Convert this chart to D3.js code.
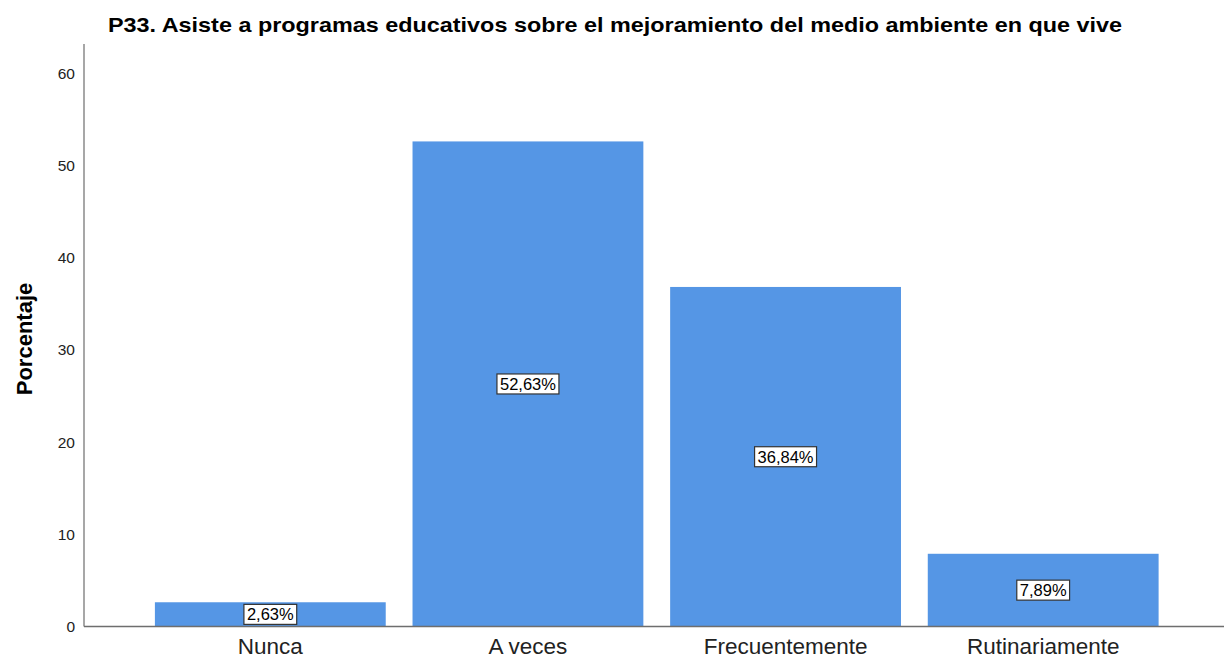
<!DOCTYPE html>
<html>
<head>
<meta charset="utf-8">
<script src="https://cdn.jsdelivr.net/npm/d3@7"></script>
<style>
  html, body { margin: 0; padding: 0; background: #fff; }
  svg { display: block; font-family: Arial, "Liberation Sans", sans-serif; }
</style>
</head>
<body>
<svg id="chart" width="1224" height="662"></svg>
<script>
// Response categories and their percentages
const categories = ["Nunca", "A veces", "Frecuentemente", "Rutinariamente"];
const percentages = [2.63, 52.63, 36.84, 7.89];
const yTicks = [0, 10, 20, 30, 40, 50, 60];
const title = "P33. Asiste a programas educativos sobre el mejoramiento del medio ambiente en que vive";
const yTitle = "Porcentaje";

const svg = d3.select("#chart");
const W = 1224;

const x = d3.scaleBand()
  .domain(categories)
  .range([141.5, 1172])
  .paddingInner(0.104)
  .paddingOuter(0.052);

const y = d3.scaleLinear()
  .domain([0, 60])
  .range([626.5, 73.5]);

const fmt = v => v.toFixed(2).replace(".", ",") + "%";

// Title
svg.append("text")
  .attr("x", 615).attr("y", 32)
  .attr("text-anchor", "middle")
  .attr("font-weight", "bold")
  .attr("font-size", 21)
  .attr("textLength", 1014)
  .attr("lengthAdjust", "spacingAndGlyphs")
  .attr("fill", "#000")
  .text(title);

// Y axis title
svg.append("text")
  .attr("transform", "translate(32,339) rotate(-90)")
  .attr("text-anchor", "middle")
  .attr("font-weight", "bold")
  .attr("font-size", 22)
  .attr("fill", "#000")
  .text(yTitle);

// Bars
svg.append("g").selectAll("rect")
  .data(percentages)
  .join("rect")
  .attr("x", (d, i) => x(categories[i]))
  .attr("width", x.bandwidth())
  .attr("y", d => y(d))
  .attr("height", d => y(0) - y(d))
  .attr("fill", "#5596e5");

// Y axis
const yAxis = d3.axisLeft(y).tickValues(yTicks).tickSize(0).tickPadding(9);
const gy = svg.append("g").attr("transform", "translate(84,0)").call(yAxis);
gy.select(".domain").remove();
gy.selectAll("text").attr("font-size", 15.5).attr("fill", "#222")
  .attr("font-family", "Arial, 'Liberation Sans', sans-serif");
svg.append("line")
  .attr("x1", 84).attr("x2", 84)
  .attr("y1", 44).attr("y2", y(0))
  .attr("stroke", "#8a8a8a").attr("stroke-width", 1.5);

// X axis
const xAxis = d3.axisBottom(x).tickSize(0).tickPadding(12);
const gx = svg.append("g").attr("transform", `translate(0,${y(0)})`).call(xAxis);
gx.select(".domain").remove();
gx.selectAll("text").attr("font-size", 22.5).attr("fill", "#222")
  .attr("font-family", "Arial, 'Liberation Sans', sans-serif");
svg.append("line")
  .attr("x1", 84).attr("x2", W)
  .attr("y1", y(0)).attr("y2", y(0))
  .attr("stroke", "#6e6e6e").attr("stroke-width", 1.5);

// Value labels in boxes at bar midpoints
const labels = svg.append("g").selectAll("g")
  .data(percentages)
  .join("g")
  .attr("transform", (d, i) => `translate(${x(categories[i]) + x.bandwidth() / 2},${(y(0) + y(d)) / 2})`);

labels.append("rect")
  .attr("x", -31.5).attr("y", -10)
  .attr("width", 63).attr("height", 20)
  .attr("fill", "#fff").attr("stroke", "#333").attr("stroke-width", 1.2);

labels.append("text")
  .attr("text-anchor", "middle")
  .attr("dy", "0.36em")
  .attr("font-size", 16.5)
  .attr("fill", "#000")
  .text(d => fmt(d));

// Narrow boxes to fit shorter labels
labels.each(function() {
  const g = d3.select(this);
  const w = g.select("text").node().getComputedTextLength() + 6;
  g.select("rect").attr("x", -w / 2).attr("width", w);
});
</script>
</body>
</html>
